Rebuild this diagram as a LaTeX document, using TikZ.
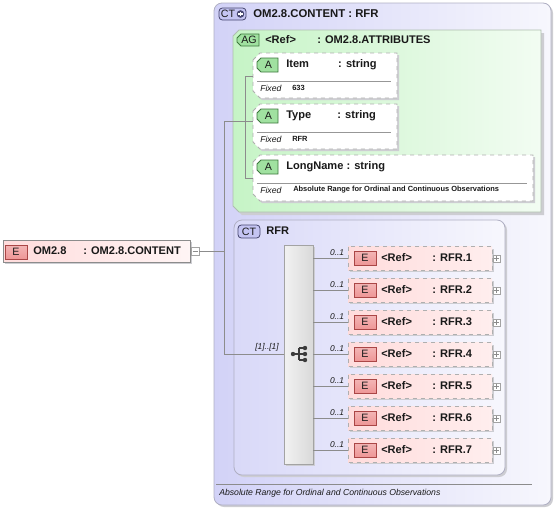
\documentclass[tikz,border=0pt]{standalone}
\usepackage{fontspec}
\setmainfont{Liberation Sans}
\usetikzlibrary{fit}
\definecolor{ctL}{RGB}{210,210,247}
\definecolor{ctR}{RGB}{247,247,253}
\definecolor{ctB}{RGB}{175,175,195}
\definecolor{agL}{RGB}{198,244,198}
\definecolor{agR}{RGB}{242,252,242}
\definecolor{agB}{RGB}{175,190,175}
\definecolor{elL}{RGB}{255,220,220}
\definecolor{elR}{RGB}{255,238,238}
\definecolor{eIc}{RGB}{238,150,150}
\definecolor{eIcB}{RGB}{170,70,70}
\definecolor{aIc}{RGB}{160,225,160}
\definecolor{aIcB}{RGB}{60,120,60}
\definecolor{ctIc}{RGB}{196,196,242}
\definecolor{ctIcB}{RGB}{70,70,110}
\definecolor{dashC}{RGB}{175,175,175}
\definecolor{connC}{RGB}{140,140,140}
\definecolor{shadC}{RGB}{205,205,210}
\definecolor{txt}{RGB}{25,25,25}
\begin{document}
\begin{tikzpicture}[x=0.75pt,y=-0.75pt,
  conn/.style={draw=connC, line width=0.55pt},
  lbl/.style={font=\fontsize{8.3}{9}\selectfont\bfseries, text=txt, inner sep=0pt, anchor=west},
  ttl/.style={font=\fontsize{8.5}{9}\selectfont\bfseries, text=txt, inner sep=0pt, anchor=west},
  fixedlbl/.style={font=\fontsize{6.5}{7}\selectfont\itshape, text=txt, inner sep=0pt, anchor=west},
  fixedval/.style={font=\fontsize{5.6}{7}\selectfont\bfseries, text=txt, inner sep=0pt, anchor=west},
  mult/.style={font=\fontsize{6.3}{7}\selectfont\itshape, text=txt, inner sep=0pt},
  icontxt/.style={font=\fontsize{8}{8}\selectfont, text=txt, inner sep=0pt},
  hold/.style={inner sep=0pt, draw=none},
  elbox/.style={draw=dashC, dashed, line width=0.6pt, left color=elL, right color=elR},
  eicon/.style={draw=eIcB, line width=0.6pt, top color=eIc!70!white, bottom color=eIc},
  attbox/.style={draw=dashC, dashed, line width=0.6pt, fill=white},
  shad/.style={fill=shadC},
  pmbox/.style={draw=connC!80, fill=white, line width=0.4pt}
]
\useasboundingbox (0,0) rectangle (555,508);

% ---------- outer complex type ----------
\fill[shad, rounded corners=6pt] (216,5) rectangle (553,507);
\draw[draw=ctB, line width=0.6pt, rounded corners=6pt, left color=ctL, right color=ctR] (214,3) rectangle (551,505);
\node[hold, fit={(214,3) (551,505)}] (ct) {};
\draw[draw=ctIcB, fill=ctIc, rounded corners=2.5pt, line width=0.6pt] (219,8) rectangle (246,20);
\node[icontxt] (cticon) at (228,14) {CT};
\fill[ctIcB] (240.5,14) circle (3.8);
\draw[white, line width=1.1pt] (238.3,14) -- (242.7,14) (240.5,11.8) -- (240.5,16.2);
\node[ttl] (cttitle) at (253,14) {OM2.8.CONTENT : RFR};

% ---------- attribute group ----------
\fill[shad] (236,39) -- (242,33) -- (544,33) -- (544,215) -- (242,215) -- (236,209) -- cycle;
\draw[draw=agB, line width=0.6pt, left color=agL, right color=agR] (233,36) -- (239,30) -- (541,30) -- (541,212) -- (239,212) -- (233,206) -- cycle;
\node[hold, fit={(233,30) (541,212)}] (ag) {};
\draw[draw=aIcB, fill=aIc, line width=0.6pt] (237,38) -- (241,34) -- (259,34) -- (259,46) -- (241,46) -- (237,42) -- cycle;
\node[icontxt] (agicon) at (249,40) {AG};
\node[lbl] (agref) at (265,40) {<Ref>};
\node[lbl] (agtype) at (317,40) {: OM2.8.ATTRIBUTES};

% attribute boxes
\foreach \nm/\yt/\yb/\xr/\lab/\val/\valx in {
   item/53/98/397/{Item\hspace{21.9pt}: string}/633/292,
   type/104/149/397/{Type\hspace{19.6pt}: string}/RFR/292,
   long/155/201/533/{LongName : string}/Absolute Range for Ordinal and Continuous Observations/293}{
  \fill[shad] (255,\yt+9) -- (262,\yt+2) -- (\xr+2,\yt+2) -- (\xr+2,\yb+2) -- (262,\yb+2) -- (255,\yb-5) -- cycle;
  \draw[attbox] (253,\yt+7) -- (260,\yt) -- (\xr,\yt) -- (\xr,\yb) -- (260,\yb) -- (253,\yb-7) -- cycle;
  \node[hold, fit={(253,\yt) (\xr,\yb)}] (\nm) {};
  \draw[draw=aIcB, fill=aIc, line width=0.6pt] (257,\yt+9) -- (261,\yt+5) -- (278,\yt+5) -- (278,\yt+19) -- (261,\yt+19) -- (257,\yt+15) -- cycle;
  \node[icontxt] (\nm icon) at (268.5,\yt+12) {A};
  \node[lbl] (\nm name) at (286,\yt+11.5) {\lab};
  \draw[draw=connC!90, line width=0.5pt] (257,\yt+28) -- (\xr-6,\yt+28);
  \node[fixedlbl] (\nm fixed) at (260,\yt+35) {Fixed};
  \node[fixedval] (\nm val) at (\valx,\yt+34.5) {\val};
}

% ---------- inner complex type RFR ----------
\fill[shad, rounded corners=6pt] (236,222) rectangle (507,477);
\draw[draw=ctB, line width=0.6pt, rounded corners=6pt, left color=ctL!85!white, right color=ctR] (234,220) rectangle (505,475);
\node[hold, fit={(234,220) (505,475)}] (rfr) {};
\draw[draw=ctIcB, fill=ctIc, rounded corners=2.5pt, line width=0.6pt] (238,225) rectangle (260,238);
\node[icontxt] (rfricon) at (249,231.5) {CT};
\node[lbl] (rfrtitle) at (266,231) {RFR};

% sequence bar
\fill[shad] (286,247) rectangle (315,466);
\node[draw=connC!80, line width=0.5pt, left color=white!95!black, right color=black!15, fit={(284,245) (313,464)}, inner sep=0pt] (bar) {};
\draw[txt!85, line width=0.9pt] (293,354) -- (299,354) (299,348) -- (299,360) (299,348) -- (305,348) (299,354) -- (305,354) (299,360) -- (305,360);
\fill[txt!85] (293,354) circle (2.2) (305,348) circle (2.2) (305,354) circle (2.2) (305,360) circle (2.2);

% elements
\foreach \i/\y in {1/258,2/290,3/322,4/354,5/386,6/418,7/450}{
  \fill[shad] (350,\y-9.5) rectangle (494,\y+14);
  \draw[elbox] (348,\y-11.5) rectangle (492,\y+12);
  \node[hold, fit={(348,\y-11.5) (492,\y+12)}] (r\i) {};
  \draw[eicon] (354,\y-7) rectangle (376,\y+7);
  \node[icontxt] (r\i icon) at (365,\y) {E};
  \node[lbl] (r\i ref) at (381,\y) {<Ref>};
  \node[lbl] (r\i typ) at (432,\y) {: RFR.\i};
  \node[pmbox, minimum size=5.4pt, inner sep=0pt] (r\i plus) at (496.5,\y+0.5) {};
  \draw[connC, line width=0.4pt] (494.2,\y+0.5) -- (498.8,\y+0.5) (496.5,\y-1.8) -- (496.5,\y+2.8);
  \node[mult, anchor=south] (r\i mult) at (337,\y-2) {0..1};
  \draw[conn] (bar.east |- r\i.west) -- (r\i.west);
}

% ---------- footer ----------
\draw[draw=connC, line width=0.5pt] (216,484.5) -- (532,484.5);
\node[fixedlbl] (footer) at (219,493) {Absolute Range for Ordinal and Continuous Observations};

% ---------- root element ----------
\fill[shad] (5,242) rectangle (192,264);
\draw[draw=connC, line width=0.6pt, left color=elL, right color=elR!60!white] (3,240) rectangle (190,262);
\node[hold, fit={(3,240) (190,262)}] (om) {};
\draw[eicon] (5,245) rectangle (27,259);
\node[icontxt] (omicon) at (16,252) {E};
\node[lbl] (omname) at (33,251) {OM2.8};
\node[lbl] (omtype) at (83,251) {: OM2.8.CONTENT};
\node[pmbox, minimum size=6pt, inner sep=0pt] (ommin) at (195,251) {};
\draw[connC, line width=0.4pt] (192.5,251) -- (197.5,251);

% ---------- connectors ----------
\coordinate (tTop) at (224,121);
\coordinate (tBot) at (224,354);
\coordinate (aTop) at (245,76);
\coordinate (aBot) at (245,178);
\draw[conn] (ommin.east) -- (ommin.east -| tTop);
\draw[conn] (tTop) -- (tBot);
\draw[conn] (tTop) -- (type.west |- tTop);
\draw[conn] (aTop) -- (aBot);
\draw[conn] (aTop) -- (item.west |- aTop);
\draw[conn] (aBot) -- (long.west |- aBot);
\draw[conn] (tBot) -- (bar.west |- tBot);
\node[mult, anchor=south] (seqmult) at (267,351) {[1]..[1]};
\end{tikzpicture}
\end{document}
